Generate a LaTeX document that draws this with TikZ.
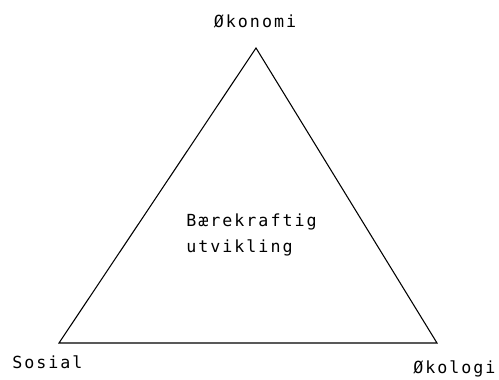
\documentclass[tikz,border=0pt]{standalone}
\usepackage{fontspec}
\setmonofont{DejaVu Sans Mono}[LetterSpace=12]
\begin{document}
\begin{tikzpicture}[x=0.75pt,y=-0.75pt,
  lbl/.style={font=\ttfamily\fontsize{12.5}{19}\selectfont, inner sep=0pt, text=black},
  edge/.style={draw=black, line width=0.8pt}]
\useasboundingbox (0,0) rectangle (499,379);
\coordinate (top) at (256,48);
\coordinate (bl) at (59,343);
\coordinate (br) at (437,343);
\draw[edge, line join=miter] (top) -- (bl) -- (br) -- cycle;
\node[lbl, anchor=center] (okonomi) at (255,21) {Økonomi};
\node[lbl, anchor=west] (sosial) at (12,362) {Sosial};
\node[lbl, anchor=west] (okologi) at (413,369) {Økologi};
\node[lbl, anchor=north west, align=left] (center) at (186,214) {Bærekraftig\\utvikling};
\end{tikzpicture}
\end{document}
